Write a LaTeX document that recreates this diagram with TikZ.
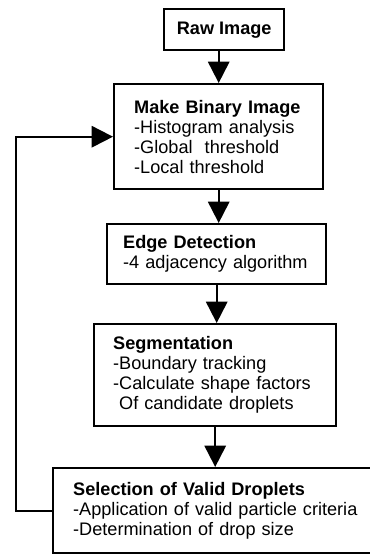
\documentclass[tikz,border=0pt]{standalone}
\usepackage{fontspec}
\setmainfont{Liberation Sans}
\usetikzlibrary{arrows.meta}
\tikzset{
  box/.style = {draw, line width=1.8pt, rectangle, anchor=north west,
                align=left, inner ysep=0pt,
                font=\fontsize{13.6}{15}\selectfont},
  flow/.style = {line width=1.5pt, -{Triangle[width=16pt, length=16pt]}},
}
\begin{document}
\begin{tikzpicture}[x=0.75pt, y=-0.75pt]
  \useasboundingbox (0, 0) rectangle (370, 554);
  \node [box, align=center, minimum width=90pt, minimum height=30.75pt, inner xsep=0pt]
        (raw) at (163, 8) {\textbf{Raw Image}};
  \node [box, text width=126.75pt, inner xsep=15pt, minimum height=78.75pt]
        (make) at (113, 83) {\textbf{Make Binary Image}\\-Histogram analysis\\-Global\ \ threshold\\-Local threshold};
  \node [box, text width=140.25pt, inner xsep=12pt, minimum height=45pt]
        (edge) at (106, 223) {\textbf{Edge Detection}\\-4 adjacency algorithm};
  \node [box, text width=153pt, inner xsep=14.25pt, minimum height=76.5pt]
        (seg) at (93, 323) {\textbf{Segmentation}\\-Boundary tracking\\-Calculate shape factors\\\ Of candidate droplets};
  \node [box, text width=216pt, inner xsep=15pt, minimum height=63.75pt]
        (sel) at (52, 467) {\textbf{Selection of Valid Droplets}\\-Application of valid particle criteria\\-Determination of drop size};
  \coordinate (back) at (16, 0);
  \draw [flow] (raw.south -| make.north) -- (make.north);
  \draw [flow] (make.south) -- (make.south |- edge.north);
  \draw [flow] (edge.south) -- (edge.south |- seg.north);
  \draw [flow] (seg.south) -- (seg.south |- sel.north);
  \draw [flow] (sel.west) -- (sel.west -| back) |- (make.west);
\end{tikzpicture}
\end{document}
